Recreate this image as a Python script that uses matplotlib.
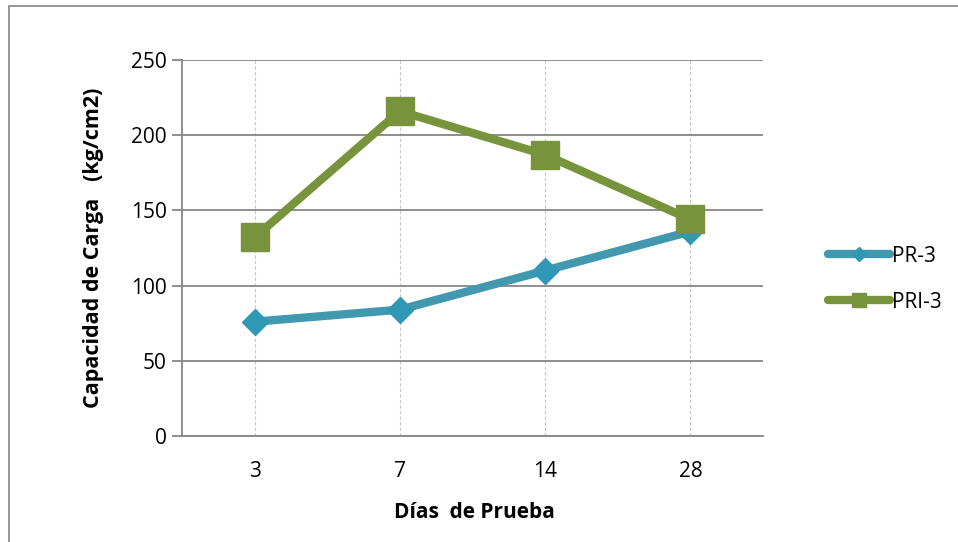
import matplotlib
matplotlib.use("Agg")
import matplotlib.pyplot as plt
from matplotlib.patches import Rectangle
import numpy as np

days = ["3", "7", "14", "28"]
pr3 = [76, 84, 110, 136]
pri3 = [132, 216, 187, 144]
series_names = ["PR-3", "PRI-3"]

plt.rcParams['font.family'] = ['Open Sans', 'DejaVu Sans']

W, H = 958, 542
fig = plt.figure(figsize=(W/100, H/100), dpi=100)
fig.patches.append(Rectangle((9/W, -0.1), 1.2, 1 - 6/H + 0.1, transform=fig.transFigure,
                             fill=False, edgecolor='#8c8c8c', lw=1.3))

ax = fig.add_axes([182/W, 1 - 436/H, (763-182)/W, (436-60)/H])
x = np.arange(len(days))

ax.plot(x, pr3, color='#4198AF', lw=6, marker='D', markersize=13.5,
        markerfacecolor='#2E98B5', markeredgecolor='#2E98B5', label=series_names[0],
        solid_capstyle='round', zorder=3)
ax.plot(x, pri3, color='#77933C', lw=6, marker='s', markersize=19.5,
        markerfacecolor='#77933C', markeredgecolor='#77933C', label=series_names[1],
        solid_capstyle='round', zorder=4)

ax.set_xlim(-0.5, len(days) - 0.5)
ax.set_ylim(0, 250)
ax.set_yticks(np.arange(0, 251, 50))
ax.set_xticks(x)
ax.set_xticklabels(days)
ax.yaxis.grid(True, color='#868686', lw=1.3)
ax.xaxis.grid(True, color='#c8c8c8', lw=0.8, ls=(0, (3, 2)))
ax.set_axisbelow(True)
for s in ['top', 'right']:
    ax.spines[s].set_visible(False)
for s in ['left', 'bottom']:
    ax.spines[s].set_color('#868686')
    ax.spines[s].set_linewidth(1.3)
ax.tick_params(axis='y', length=7, color='#868686', width=1.3, labelsize=15, pad=4)
ax.tick_params(axis='x', length=0, labelsize=15, pad=18)

ax.set_xlabel("Días  de Prueba", fontsize=15, fontweight='bold', va='center', ha='center')
ax.xaxis.set_label_coords((474-182)/581, (436-513)/376)
ax.set_ylabel("Capacidad de Carga   (kg/cm2)", fontsize=15.5, fontweight='bold', va='center', ha='center')
ax.yaxis.set_label_coords((94-182)/581, 0.5)

leg = fig.legend(loc='upper left', bbox_to_anchor=(809/W, 1 - 227/H), frameon=False,
                 fontsize=15, handlelength=3.0, handletextpad=0.1, labelspacing=1.2,
                 markerscale=0.55)

fig.savefig("out.png", dpi=100)
